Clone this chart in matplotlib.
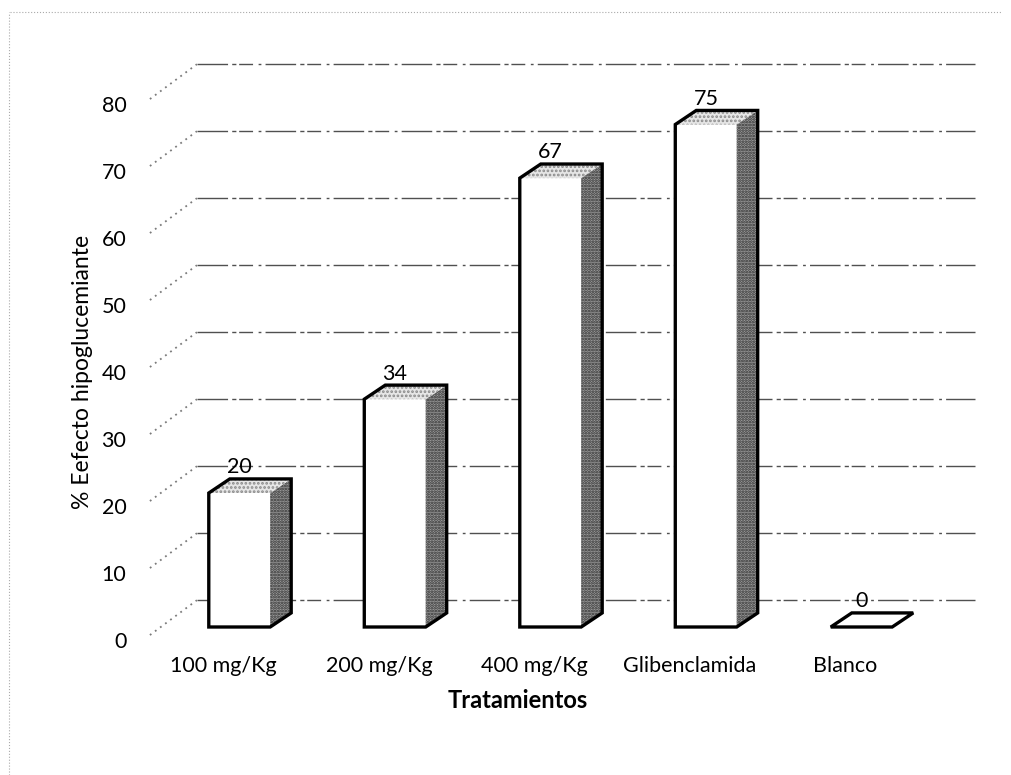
import matplotlib.pyplot as plt
from matplotlib.patches import Polygon

tratamientos = ['100 mg/Kg', '200 mg/Kg', '400 mg/Kg', 'Glibenclamida', 'Blanco']
efecto = [20, 34, 67, 75, 0]
ticks_y = [0, 10, 20, 30, 40, 50, 60, 70, 80]

plt.rcParams['font.family'] = ['Lato', 'DejaVu Sans']
plt.rcParams['hatch.linewidth'] = 1.3

# pseudo-3D geometry in data units (x: category, y: percent)
BAR_W = 0.395
DX, DY = 0.135, 2.1          # depth of each bar
WALL_X0, WALL_X1 = -0.576, 4.73
BACK_DX, BACK_DY = 0.302, 4.0  # back wall offset
FRONT_DY = -1.2                # front edge of the side wall
TXT = dict(fontsize=15.5, color='black')

fig = plt.figure(figsize=(10.12, 7.75), dpi=100)
ax = fig.add_axes([0.15983, 0.19097, 0.76828, 0.69161])
ax.set_xlim(-0.5, 4.5)
ax.set_ylim(0, 80)
ax.axis('off')

# walls: back gridlines and side diagonals
for v in ticks_y:
    ax.plot([WALL_X0 + BACK_DX, WALL_X1], [v + BACK_DY, v + BACK_DY],
            color='#505050', lw=1.0, ls=(0, (22, 3, 3, 2, 10, 4, 2, 3)), zorder=1, clip_on=False)
    ax.plot([WALL_X0, WALL_X0 + BACK_DX], [v + FRONT_DY, v + BACK_DY],
            color='#7a7a7a', lw=1.3, ls=(0, (1, 2.5)), zorder=1, clip_on=False)
    ax.annotate(str(v), (WALL_X0, v + FRONT_DY), xytext=(-17, -5), textcoords='offset points',
                ha='right', va='center', annotation_clip=False, **TXT)

# bars
for i, (name, v) in enumerate(zip(tratamientos, efecto)):
    x0, x1 = i - BAR_W / 2, i + BAR_W / 2
    front = [(x0, 0), (x1, 0), (x1, v), (x0, v)]
    side = [(x1, 0), (x1 + DX, DY), (x1 + DX, v + DY), (x1, v)]
    top = [(x0, v), (x1, v), (x1 + DX, v + DY), (x0 + DX, v + DY)]
    ax.add_patch(Polygon(front, closed=True, facecolor='white', lw=0, zorder=3, clip_on=False))
    if v > 0:
        ax.add_patch(Polygon(side, closed=True, facecolor='#9c9c9c', edgecolor='#2e2e2e',
                             hatch='......', lw=0, zorder=3, clip_on=False))
        ax.add_patch(Polygon(top, closed=True, facecolor='#e6e6e6', edgecolor='#8a8a8a',
                             hatch='....', lw=0, zorder=3, clip_on=False))
    else:
        ax.add_patch(Polygon(top, closed=True, facecolor='white', lw=0, zorder=3, clip_on=False))
    outline = [(x0, 0), (x0, v), (x0 + DX, v + DY), (x1 + DX, v + DY),
               (x1 + DX, DY), (x1, 0)]
    ax.add_patch(Polygon(outline, closed=True, fill=False, edgecolor='black', lw=2.4,
                         joinstyle='miter', zorder=4, clip_on=False))
    ax.annotate(str(v), (i, v), xytext=(0, 18.5), textcoords='offset points',
                ha='center', va='center', zorder=5, annotation_clip=False, **TXT)
    ax.annotate(name, (i, 0), xytext=(-11.5, -28), textcoords='offset points',
                ha='center', va='center', annotation_clip=False, **TXT)

fig.text(83 / 1012, 1 - 372 / 775, '% Eefecto hipoglucemiante', rotation=90,
         ha='center', va='center', fontsize=16.5, color='black')
fig.text(518 / 1012, 1 - 701 / 775, 'Tratamientos', ha='center', va='center',
         fontsize=17, fontweight='bold', color='black')

# faint page border from the scan
fig.add_artist(plt.Line2D([0.01, 0.99], [0.985, 0.985], color='#aaaaaa', lw=0.8, ls=':'))
fig.add_artist(plt.Line2D([0.009, 0.009], [0.0, 0.985], color='#aaaaaa', lw=0.8, ls=':'))

fig.savefig('out.png', dpi=100)
